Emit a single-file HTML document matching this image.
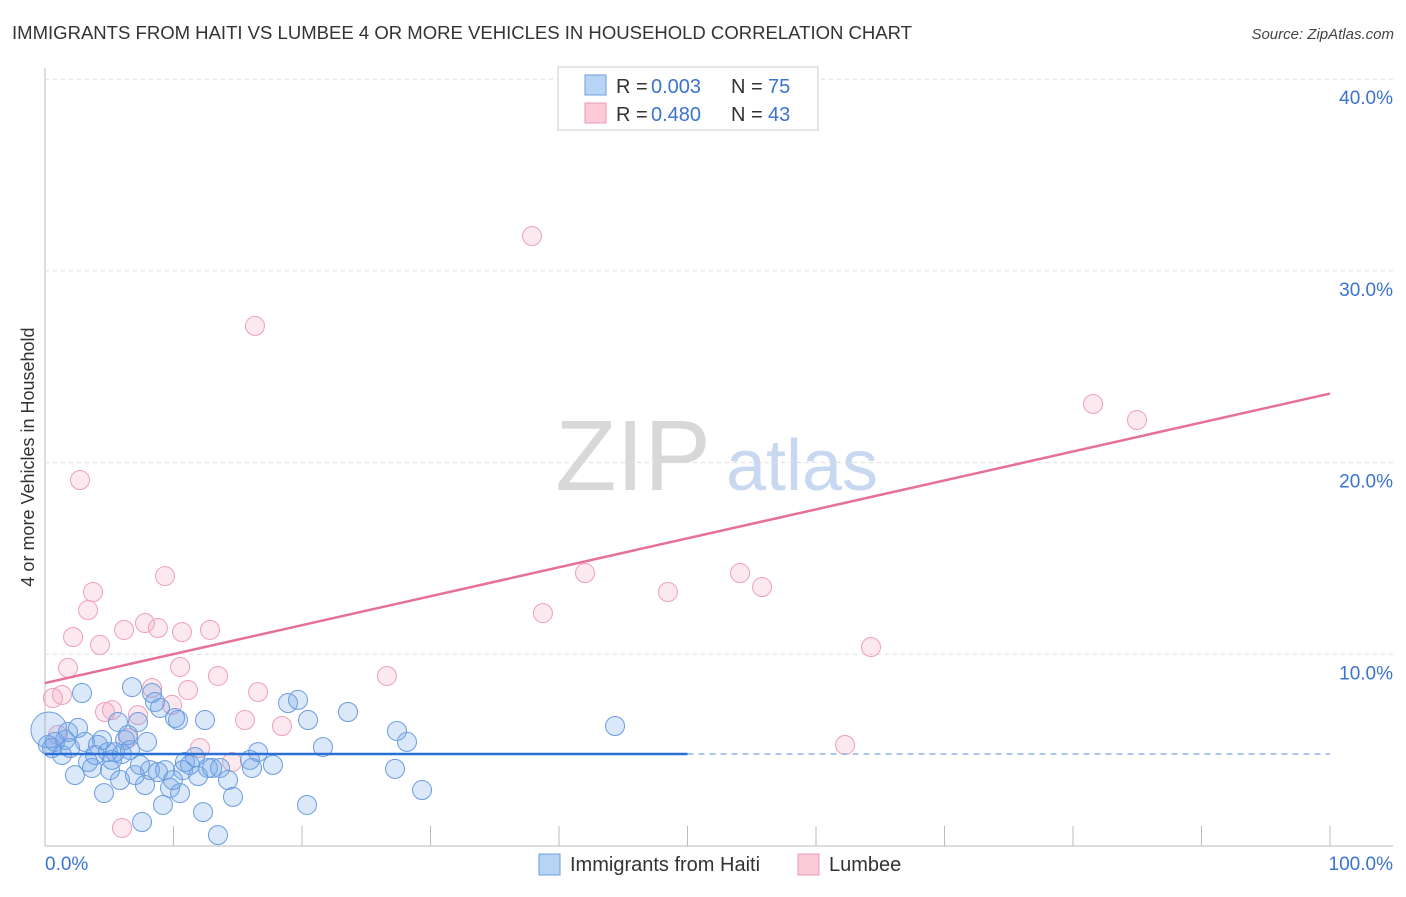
<!DOCTYPE html>
<html><head><meta charset="utf-8"><style>
body{margin:0;background:#fff;font-family:"Liberation Sans",sans-serif}
svg text{font-family:"Liberation Sans",sans-serif}
</style></head><body>
<svg id="chart" width="1406" height="892" viewBox="0 0 1406 892" xmlns="http://www.w3.org/2000/svg">
<text x="12" y="39" font-size="18" fill="#333" textLength="900" lengthAdjust="spacingAndGlyphs">IMMIGRANTS FROM HAITI VS LUMBEE 4 OR MORE VEHICLES IN HOUSEHOLD CORRELATION CHART</text>
<text x="1394" y="39" font-size="15" fill="#444" text-anchor="end" font-style="italic">Source: ZipAtlas.com</text>
<text transform="translate(34,457) rotate(-90)" font-size="18" fill="#333" text-anchor="middle">4 or more Vehicles in Household</text>
<g>
<text x="633" y="490" font-size="100" fill="#d8d8d8" text-anchor="middle" font-family="Liberation Serif,serif">ZIP</text>
<text x="802" y="490" font-size="72" fill="#c8d8f0" text-anchor="middle">atlas</text>
</g>
<g id="grid"></g>
<g id="marks"></g>
<g>
<rect x="558" y="67" width="260" height="63" fill="#fff" stroke="#ccc"/>
<rect x="585" y="75" width="21" height="20" fill="#b8d4f5" stroke="#6a9ee0"/>
<rect x="585" y="103" width="21" height="20" fill="#fbcbd8" stroke="#ec98b2"/>
<text x="616" y="93" font-size="20" fill="#333">R =</text>
<text x="651" y="93" font-size="20" fill="#3b73d1">0.003</text>
<text x="731" y="93" font-size="20" fill="#333">N =</text>
<text x="768" y="93" font-size="20" fill="#3b73d1">75</text>
<text x="616" y="121" font-size="20" fill="#333">R =</text>
<text x="651" y="121" font-size="20" fill="#3b73d1">0.480</text>
<text x="731" y="121" font-size="20" fill="#333">N =</text>
<text x="768" y="121" font-size="20" fill="#3b73d1">43</text>
</g>
<g>
<rect x="539" y="854" width="21" height="21" fill="#b8d4f5" stroke="#6a9ee0"/>
<text x="570" y="871" font-size="20" fill="#333">Immigrants from Haiti</text>
<rect x="798" y="854" width="21" height="21" fill="#fbcbd8" stroke="#ec98b2"/>
<text x="829" y="871" font-size="20" fill="#333">Lumbee</text>
</g>
</svg>
<script>
const yTicks=[10,20,30,40];
const xTickLabels=["0.0%","100.0%"];
const blueX=[0.23,0.54,0.78,1.32,1.56,1.79,1.95,2.33,2.57,2.88,3.11,3.35,3.66,3.89,4.12,4.44,4.59,4.90,5.06,5.21,5.45,5.68,5.84,5.99,6.23,6.46,6.61,6.77,7.00,7.24,7.39,7.55,7.78,7.94,8.17,8.33,8.56,8.79,8.95,9.18,9.34,9.73,9.96,10.12,10.35,10.51,10.74,10.89,11.28,11.67,11.91,12.30,12.45,12.68,13.00,13.46,13.62,14.24,14.63,15.95,16.11,16.58,17.74,18.91,19.69,20.39,20.47,21.63,23.58,27.24,27.39,28.17,29.34,44.36,0.31];
const blueY=[5.27,5.11,5.43,4.75,5.53,5.95,5.11,3.70,6.16,7.98,5.43,4.38,4.07,4.75,5.27,5.53,2.76,4.90,3.96,4.49,4.90,6.47,3.44,4.80,5.53,5.79,5.01,8.29,3.70,6.47,4.23,1.25,3.18,5.43,3.96,7.98,7.51,3.86,7.20,2.14,3.96,3.03,3.44,6.68,6.57,2.76,3.96,4.38,4.23,4.64,3.65,1.77,6.57,4.07,4.07,0.57,4.07,3.44,2.56,4.49,4.07,4.90,4.23,7.46,7.62,2.14,6.57,5.16,6.99,4.02,6.00,5.43,2.92,6.26,6.05];
const pinkX=[0.62,1.01,1.32,1.79,2.18,2.72,3.35,3.74,4.28,4.67,5.21,5.99,6.15,6.46,7.24,7.78,8.33,8.79,9.34,9.88,10.51,10.66,11.13,12.06,12.84,13.46,14.55,15.56,16.34,16.58,18.44,26.61,37.90,38.75,42.02,48.48,54.09,55.80,62.26,64.28,81.56,84.98,54.09];
const pinkY=[7.72,5.79,7.88,9.29,10.90,19.09,12.31,13.25,10.49,6.99,7.09,0.94,11.27,5.63,6.83,11.63,8.24,11.37,14.08,7.36,9.34,11.16,8.14,5.11,11.27,8.87,4.38,6.57,27.13,8.03,6.26,8.87,31.82,12.15,14.24,13.25,14.24,13.51,5.27,10.38,23.06,22.22,38.24];
const blueTrend=[4.8,4.8];
const pinkTrend=[8.5,23.6];
const NS="http://www.w3.org/2000/svg";
const X=v=>45+v*12.85, Y=v=>846-v*19.17;
function mk(t,a,p){const e=document.createElementNS(NS,t);for(const k in a)e.setAttribute(k,a[k]);p.appendChild(e);return e;}
const grid=document.getElementById('grid'), marks=document.getElementById('marks');
let ax=mk('line',{x1:45,y1:68,x2:45,y2:846,stroke:'#bbb'},grid);


let bx=mk('line',{x1:45,y1:846,x2:1393,y2:846,stroke:'#bbb'},grid);


yTicks.forEach(t=>{
 let g=mk('line',{x1:45,x2:1393,y1:Y(t),y2:Y(t),stroke:'#ddd','stroke-dasharray':'4,4'},grid);
 
 
 let l=mk('text',{x:1393,y:Y(t)+25,'font-size':19,fill:'#3b73d1','text-anchor':'end'},grid);l.textContent=t.toFixed(1)+'%';
 
 
});
for(let i=0;i<=10;i++){let tk=mk('line',{x1:X(i*10),x2:X(i*10),y1:826,y2:846,stroke:'#bbb'},grid);
 
 }
[[0,'start',X(0)],[1,'end',1393]].forEach(([i,a,x])=>{let l=mk('text',{x:x,y:870,'font-size':19,fill:'#3b73d1','text-anchor':a},grid);l.textContent=xTickLabels[i];
 
 });
pinkX.forEach((v,i)=>{let c=mk('circle',{cx:X(v),cy:Y(pinkY[i]),r:9.5,fill:'rgba(245,165,190,0.25)',stroke:'#eea0b8','stroke-width':1},marks);
 
 });
blueX.forEach((v,i)=>{let c=mk('circle',{cx:X(v),cy:Y(blueY[i]),r:i==blueX.length-1?18:9.5,fill:'rgba(110,165,230,0.25)',stroke:'#6a9de0','stroke-width':1},marks);
 
 });
let b1=mk('line',{x1:X(0),y1:Y(blueTrend[0]),x2:X(50),y2:Y(blueTrend[0]+(blueTrend[1]-blueTrend[0])/2),stroke:'#2a6fd6','stroke-width':2.5},marks);


let b2=mk('line',{x1:X(50),y1:Y(blueTrend[0]+(blueTrend[1]-blueTrend[0])/2),x2:X(100),y2:Y(blueTrend[1]),stroke:'#8fb3e6','stroke-width':1.5,'stroke-dasharray':'6,5'},marks);


let p=mk('line',{x1:X(0),y1:Y(pinkTrend[0]),x2:X(100),y2:Y(pinkTrend[1]),stroke:'#e5709a','stroke-width':2.5},marks);


</script>
</body></html>
